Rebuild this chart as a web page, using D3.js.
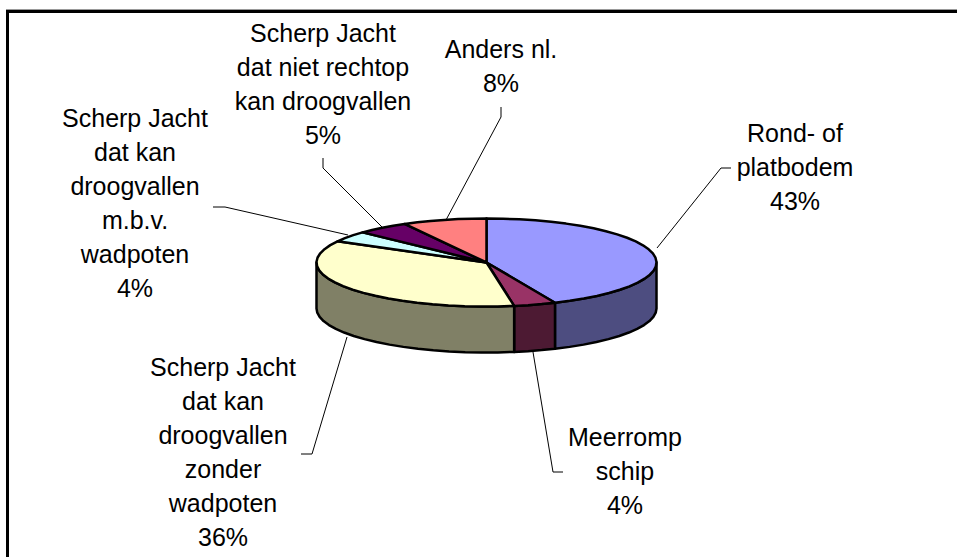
<!DOCTYPE html>
<html>
<head>
<meta charset="utf-8">
<script src="https://cdnjs.cloudflare.com/ajax/libs/d3/7.8.5/d3.min.js"></script>
<style>
  html, body { margin: 0; padding: 0; background: #fff; overflow: hidden; }
  text { font-family: "Liberation Sans", Arial, sans-serif; font-size: 25px; fill: #000; }
</style>
</head>
<body>
<div class="canvas"></div>
<script>
// data
const names = [
  ["Rond- of", "platbodem"],
  ["Meerromp", "schip"],
  ["Scherp Jacht", "dat kan", "droogvallen", "zonder", "wadpoten"],
  ["Scherp Jacht", "dat kan", "droogvallen", "m.b.v.", "wadpoten"],
  ["Scherp Jacht", "dat niet rechtop", "kan droogvallen"],
  ["Anders nl."],
];
const values = [43.4, 4, 35.6, 4, 5, 8];
const topColors = ["#9999ff", "#993366", "#ffffcc", "#ccffff", "#660066", "#ff8080"];
const sideColors = ["#4d4d80", "#4d1a33", "#808066", "#668080", "#330033", "#804040"];

// label placing, one per slice: centre x, first baseline y
const labelPos = [
  [795, 142],
  [625, 446],
  [223, 376],
  [135, 127],
  [323, 42],
  [501, 58],
];
// leader lines, rim point first
const leaders = [
  [[657, 248], [721, 168], [731, 168]],
  [[533, 352], [553, 472], [563, 472]],
  [[347, 337], [312, 454], [301, 454]],
  [[348, 235], [225, 207], [213, 207]],
  [[382, 227], [323, 168], [323, 158]],
  [[446, 220], [501, 117], [501, 107]],
];

const chartSet = { width: 957, height: 557, rx: 170, ry: 44, depth: 46, lineH: 34 };
const center = { x: 486.5, y: 262.5 };

const svg = d3
  .select(".canvas")
  .append("svg")
  .attr("width", chartSet.width)
  .attr("height", chartSet.height);

// frame: right and bottom sides are cut off in the picture
svg
  .append("path")
  .attr("d", d3.line()([[6, 9.5], [960, 9.5]]))
  .attr("stroke", "#999")
  .attr("stroke-width", 1);
svg
  .append("path")
  .attr("d", d3.line()([[7.5, 560], [7.5, 11.5], [960, 11.5]]))
  .attr("fill", "none")
  .attr("stroke", "#000")
  .attr("stroke-width", 3);

const pie = d3.pie().sort(null).value((d) => d);
const slices = pie(values);

const g = svg
  .append("g")
  .attr("transform", `translate(${center.x}, ${center.y})`);

// ellipse point for a pie angle (0 = 12 o'clock, clockwise)
const sx = d3.scaleLinear().domain([-1, 1]).range([-chartSet.rx, chartSet.rx]);
const sy = d3.scaleLinear().domain([-1, 1]).range([-chartSet.ry, chartSet.ry]);
const rim = (a) => [sx(Math.sin(a)), sy(-Math.cos(a))];
const line = d3.line();

const arcPoints = (a0, a1) => {
  const n = Math.max(2, Math.ceil((a1 - a0) / 0.1));
  return d3.range(n + 1).map((i) => rim(a0 + ((a1 - a0) * i) / n));
};

// side walls, only the part of the rim that faces us
const lo = Math.PI / 2;
const hi = (3 * Math.PI) / 2;
slices.forEach((d, i) => {
  const a0 = Math.max(d.startAngle, lo);
  const a1 = Math.min(d.endAngle, hi);
  if (a1 <= a0) return;
  const upper = arcPoints(a0, a1);
  const lower = upper.map((p) => [p[0], p[1] + chartSet.depth]).reverse();
  g.append("path")
    .attr("d", line(upper.concat(lower)) + "Z")
    .attr("fill", sideColors[i])
    .attr("stroke", "#000")
    .attr("stroke-width", 2.5)
    .attr("stroke-linejoin", "round");
});

// top faces
slices.forEach((d, i) => {
  const pts = [[0, 0]].concat(arcPoints(d.startAngle, d.endAngle));
  g.append("path")
    .attr("d", line(pts) + "Z")
    .attr("fill", topColors[i])
    .attr("stroke", "#000")
    .attr("stroke-width", 2.5)
    .attr("stroke-linejoin", "round");
});

// leader lines
leaders.forEach((pts) => {
  svg
    .append("path")
    .attr("d", line(pts))
    .attr("fill", "none")
    .attr("stroke", "#000")
    .attr("stroke-width", 1);
});

// labels
const pct = d3.format(".0%");
const total = d3.sum(values);
names.forEach((lines, i) => {
  const all = lines.concat(pct(values[i] / total));
  const t = svg
    .append("text")
    .attr("text-anchor", "middle")
    .attr("transform", `translate(${labelPos[i][0]}, ${labelPos[i][1]})`);
  all.forEach((s, j) => {
    t.append("tspan").attr("x", 0).attr("y", j * chartSet.lineH).text(s);
  });
});
</script>
</body>
</html>
